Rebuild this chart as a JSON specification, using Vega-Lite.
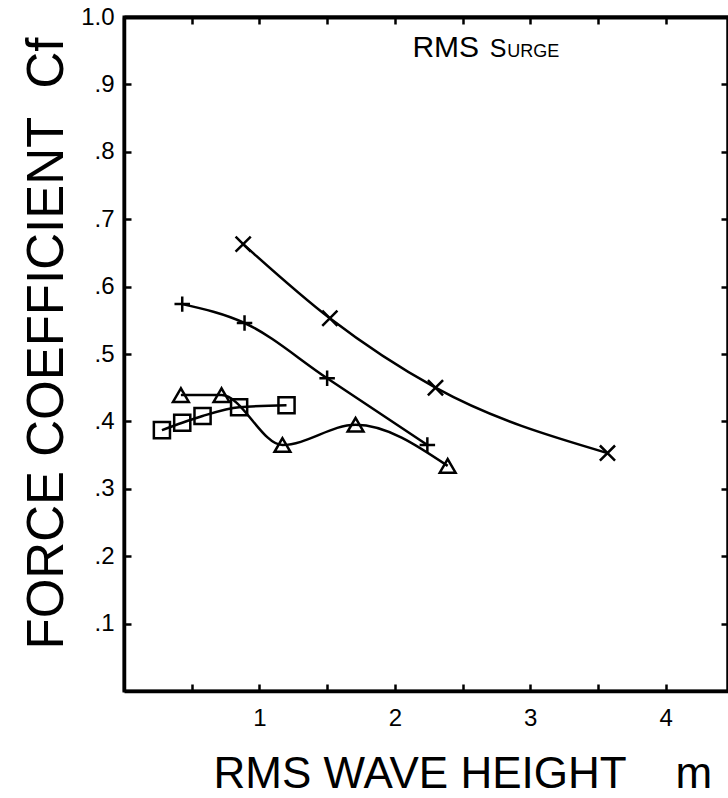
{
  "$schema": "https://vega.github.io/schema/vega-lite/v6.json",
  "width": 604,
  "height": 674,
  "autosize": {"type": "none"},
  "padding": {"left": 124, "top": 17, "right": 0, "bottom": 107},
  "background": "white",
  "config": {
    "view": {"stroke": "black", "strokeWidth": 3},
    "axis": {"domainColor": "black", "tickColor": "black", "labelColor": "black", "titleColor": "black", "grid": false, "labelFont": "Liberation Sans", "titleFont": "Liberation Sans", "titleFontWeight": "normal"}
  },
  "data": {
    "values": [
      {"series": "cross", "h": 0.88, "cf": 0.663},
      {"series": "cross", "h": 1.52, "cf": 0.553},
      {"series": "cross", "h": 2.30, "cf": 0.450},
      {"series": "cross", "h": 3.57, "cf": 0.353},
      {"series": "plus", "h": 0.43, "cf": 0.574},
      {"series": "plus", "h": 0.89, "cf": 0.546},
      {"series": "plus", "h": 1.50, "cf": 0.464},
      {"series": "plus", "h": 2.24, "cf": 0.365},
      {"series": "triangle", "h": 0.42, "cf": 0.439},
      {"series": "triangle", "h": 0.72, "cf": 0.439},
      {"series": "triangle", "h": 1.17, "cf": 0.365},
      {"series": "triangle", "h": 1.71, "cf": 0.395},
      {"series": "triangle", "h": 2.39, "cf": 0.334},
      {"series": "square", "h": 0.28, "cf": 0.387},
      {"series": "square", "h": 0.43, "cf": 0.398},
      {"series": "square", "h": 0.58, "cf": 0.408},
      {"series": "square", "h": 0.85, "cf": 0.421},
      {"series": "square", "h": 1.20, "cf": 0.424}
    ]
  },
  "resolve": {"axis": {"x": "independent", "y": "independent"}},
  "layer": [
    {
      "mark": {"type": "line", "color": "black", "strokeWidth": 2.5, "interpolate": "monotone"},
      "encoding": {
        "x": {"field": "h", "type": "quantitative", "scale": {"domain": [0, 4.46], "nice": false, "zero": false},
          "axis": {"orient": "bottom", "values": [0.5, 1, 1.5, 2, 2.5, 3, 3.5, 4], "labelExpr": "datum.value % 1 == 0 ? format(datum.value, 'd') : ''",
            "domainWidth": 3.5, "tickSize": -7, "tickWidth": 2.5, "labelFontSize": 24, "labelPadding": 22,
            "title": "RMS WAVE HEIGHT\u00a0\u00a0\u00a0\u00a0m", "titleFontSize": 44, "titleX": 89, "titleY": 96, "titleAlign": "left", "titleBaseline": "alphabetic"}},
        "y": {"field": "cf", "type": "quantitative", "scale": {"domain": [0, 1], "nice": false},
          "axis": {"orient": "left", "values": [0.1, 0.2, 0.3, 0.4, 0.5, 0.6, 0.7, 0.8, 0.9, 1.0], "labelExpr": "datum.value == 1 ? '1.0' : replace(format(datum.value, '.1f'), '0.', '.')",
            "domainWidth": 3.5, "tickSize": -7, "tickWidth": 2.5, "labelFontSize": 24, "labelPadding": 17,
            "title": "FORCE COEFFICIENT\u00a0\u00a0Cf", "titleFontSize": 51, "titleAngle": -90, "titleX": -62, "titleY": 326, "titleAlign": "center", "titleBaseline": "alphabetic"}},
        "detail": {"field": "series"}
      }
    },
    {
      "mark": {"type": "point", "filled": false, "color": "black", "strokeWidth": 2.5, "opacity": 1},
      "encoding": {
        "x": {"field": "h", "type": "quantitative",
          "axis": {"orient": "top", "values": [0.5, 1, 1.5, 2, 2.5, 3, 3.5, 4], "labels": false, "title": null, "domainWidth": 4, "tickSize": -7, "tickWidth": 2.5}},
        "y": {"field": "cf", "type": "quantitative",
          "axis": {"orient": "right", "values": [0.1, 0.2, 0.3, 0.4, 0.5, 0.6, 0.7, 0.8, 0.9], "labels": false, "title": null, "domainWidth": 4, "tickSize": -7, "tickWidth": 2.5}},
        "shape": {"field": "series", "type": "nominal", "legend": null,
          "scale": {"domain": ["cross", "plus", "triangle", "square"], "range": ["M-1,-1L1,1M1,-1L-1,1", "M-1,0L1,0M0,-1L0,1", "triangle-up", "square"]}},
        "size": {"field": "series", "type": "nominal", "legend": null,
          "scale": {"domain": ["cross", "plus", "triangle", "square"], "range": [230, 260, 130, 170]}}
      }
    },
    {
      "data": {"values": [{"label": "RMS", "h": 2.13, "cf": 0.941}]},
      "mark": {"type": "text", "font": "Liberation Sans", "fontSize": 30, "align": "left", "baseline": "alphabetic", "color": "black"},
      "encoding": {
        "x": {"field": "h", "type": "quantitative", "axis": null},
        "y": {"field": "cf", "type": "quantitative", "axis": null},
        "text": {"field": "label"}
      }
    },
    {
      "data": {"values": [{"label": "S", "h": 2.70, "cf": 0.941}]},
      "mark": {"type": "text", "font": "Liberation Sans", "fontSize": 25, "align": "left", "baseline": "alphabetic", "color": "black"},
      "encoding": {
        "x": {"field": "h", "type": "quantitative", "axis": null},
        "y": {"field": "cf", "type": "quantitative", "axis": null},
        "text": {"field": "label"}
      }
    },
    {
      "data": {"values": [{"label": "URGE", "h": 2.83, "cf": 0.941}]},
      "mark": {"type": "text", "font": "Liberation Sans", "fontSize": 18, "align": "left", "baseline": "alphabetic", "color": "black"},
      "encoding": {
        "x": {"field": "h", "type": "quantitative", "axis": null},
        "y": {"field": "cf", "type": "quantitative", "axis": null},
        "text": {"field": "label"}
      }
    }
  ]
}
